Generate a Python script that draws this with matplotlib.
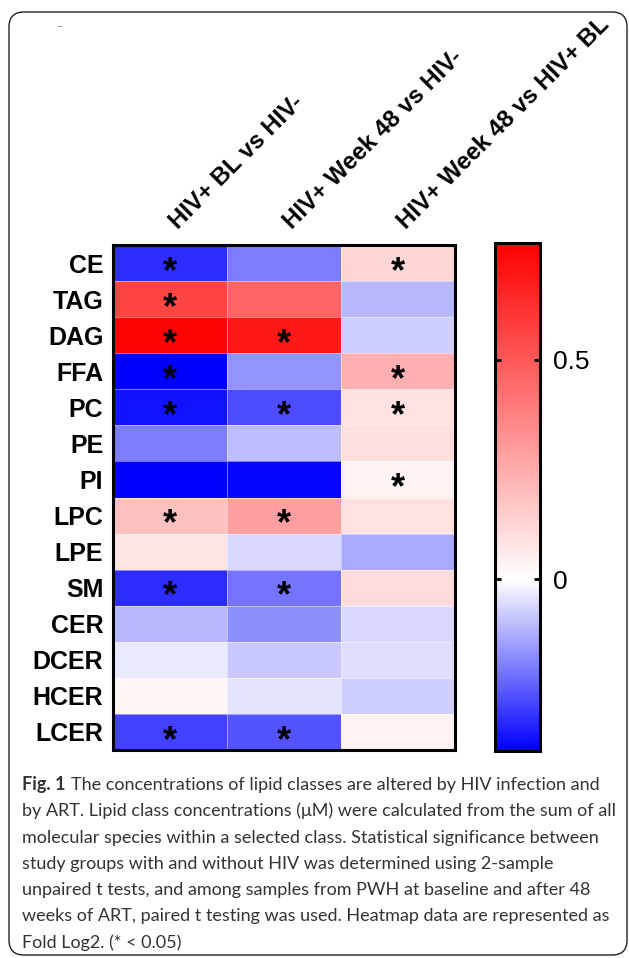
import numpy as np
import matplotlib.pyplot as plt
from matplotlib.colors import LinearSegmentedColormap, Normalize
from matplotlib.patches import FancyBboxPatch

# ========== DATOS ==========
lipids = ['CE', 'TAG', 'DAG', 'FFA', 'PC', 'PE', 'PI', 'LPC', 'LPE', 'SM',
          'CER', 'DCER', 'HCER', 'LCER']
comparisons = ['HIV+ BL vs HIV-', 'HIV+ Week 48 vs HIV-', 'HIV+ Week 48 vs HIV+ BL']

# Fold Log2
bl_vs_neg = [-0.32, 0.56, 0.76, -0.39, -0.36, -0.20, -0.39, 0.19, 0.08, -0.32,
             -0.11, -0.03, 0.03, -0.29]
wk48_vs_neg = [-0.20, 0.46, 0.69, -0.16, -0.27, -0.10, -0.38, 0.29, -0.06, -0.21,
               -0.17, -0.08, -0.04, -0.26]
wk48_vs_bl = [0.12, -0.11, -0.07, 0.24, 0.09, 0.10, 0.04, 0.09, -0.13, 0.11,
              -0.06, -0.05, -0.07, 0.04]

# significancia (* < 0.05)
sig_bl_vs_neg = [1, 1, 1, 1, 1, 0, 0, 1, 0, 1, 0, 0, 0, 1]
sig_wk48_vs_neg = [0, 0, 1, 0, 1, 0, 0, 1, 0, 1, 0, 0, 0, 1]
sig_wk48_vs_bl = [1, 0, 0, 1, 1, 0, 1, 0, 0, 0, 0, 0, 0, 0]

cbar_ticks = [0, 0.5]
vmin, vmax = -0.39, 0.765

caption_lines = [
    "by ART. Lipid class concentrations (\u03bcM) were calculated from the sum of all",
    "molecular species within a selected class. Statistical significance between",
    "study groups with and without HIV was determined using 2-sample",
    "unpaired t tests, and among samples from PWH at baseline and after 48",
    "weeks of ART, paired t testing was used. Heatmap data are represented as",
    "Fold Log2. (* < 0.05)",
]
caption_first = "The concentrations of lipid classes are altered by HIV infection and"

# ========== FIGURA ==========
values = np.array([bl_vs_neg, wk48_vs_neg, wk48_vs_bl]).T
sig = np.array([sig_bl_vs_neg, sig_wk48_vs_neg, sig_wk48_vs_bl]).T

z = -vmin / (vmax - vmin)
cmap = LinearSegmentedColormap.from_list('azul_rojo', [(0, '#0000ff'), (z, '#ffffff'), (1, '#ff0000')])
norm = Normalize(vmin=vmin, vmax=vmax)

W, H = 629, 958
fig = plt.figure(figsize=(W / 100, H / 100), dpi=100)
bold_font = 'Liberation Sans'

ax = fig.add_axes([113 / W, 1 - 750 / H, 342 / W, 505 / H])
mesh = ax.pcolormesh(values, cmap=cmap, norm=norm, edgecolors=(1, 1, 1, 0.45), linewidth=0.6)
ax.set_xlim(0, 3)
ax.set_ylim(len(lipids), 0)
ax.set_xticks([])
ax.set_yticks(np.arange(len(lipids)) + 0.5)
ax.set_yticklabels(lipids, fontsize=18, fontweight='bold', family=bold_font)
ax.tick_params(axis='y', length=0, pad=7)
for s in ax.spines.values():
    s.set_linewidth(2.2)

for j, c in enumerate(comparisons):
    ax.annotate(c, xy=(j + 0.5, 1), xycoords=('data', 'axes fraction'),
                xytext=(6, 11), textcoords='offset points', rotation=45,
                rotation_mode='anchor', ha='left', va='baseline',
                fontsize=17.3, fontweight='bold', family=bold_font)

for i in range(len(lipids)):
    for j in range(3):
        if sig[i, j]:
            ax.annotate('*', xy=(j + 0.5, i + 0.5), xytext=(0, -13.5),
                        textcoords='offset points', ha='center', va='baseline',
                        fontsize=26, fontweight='bold', family=bold_font)

# barra de color
cax = fig.add_axes([495 / W, 1 - 751 / H, 45 / W, 508 / H])
cb = fig.colorbar(mesh, cax=cax, ticks=cbar_ticks)
cb.ax.set_yticklabels(['0', '0.5'], family=bold_font)
cb.outline.set_linewidth(2.2)
cax.tick_params(direction='in', left=True, right=True, length=4, width=2,
                labelsize=19, pad=9)

# marco redondeado
marco = FancyBboxPatch((0.09, 0.03), 6.18, 9.43, boxstyle='round,pad=0,rounding_size=0.15',
                       transform=fig.dpi_scale_trans, fill=False, edgecolor='#222222', lw=1)
fig.add_artist(marco)
fig.text(60 / W, 1 - 27 / H, '\u2013', color='#999999', fontsize=9, ha='center', va='center')

# leyenda de la figura
cap_font = 'Lato'
cap_size = 13
cap_color = '#333333'
t = fig.text(22 / W, 1 - 790 / H, 'Fig. 1', fontsize=cap_size, fontweight='bold',
             family=cap_font, color=cap_color, va='baseline')
ax.annotate(caption_first, xy=(1, 0), xycoords=t, xytext=(4, 0), textcoords='offset points',
            va='bottom', fontsize=cap_size, family=cap_font, color=cap_color,
            annotation_clip=False)
for k, line in enumerate(caption_lines):
    fig.text(22 / W, 1 - (816.3 + 26.3 * k) / H, line, fontsize=cap_size, family=cap_font,
             color=cap_color, va='baseline')

fig.savefig('out.png', dpi=100)
